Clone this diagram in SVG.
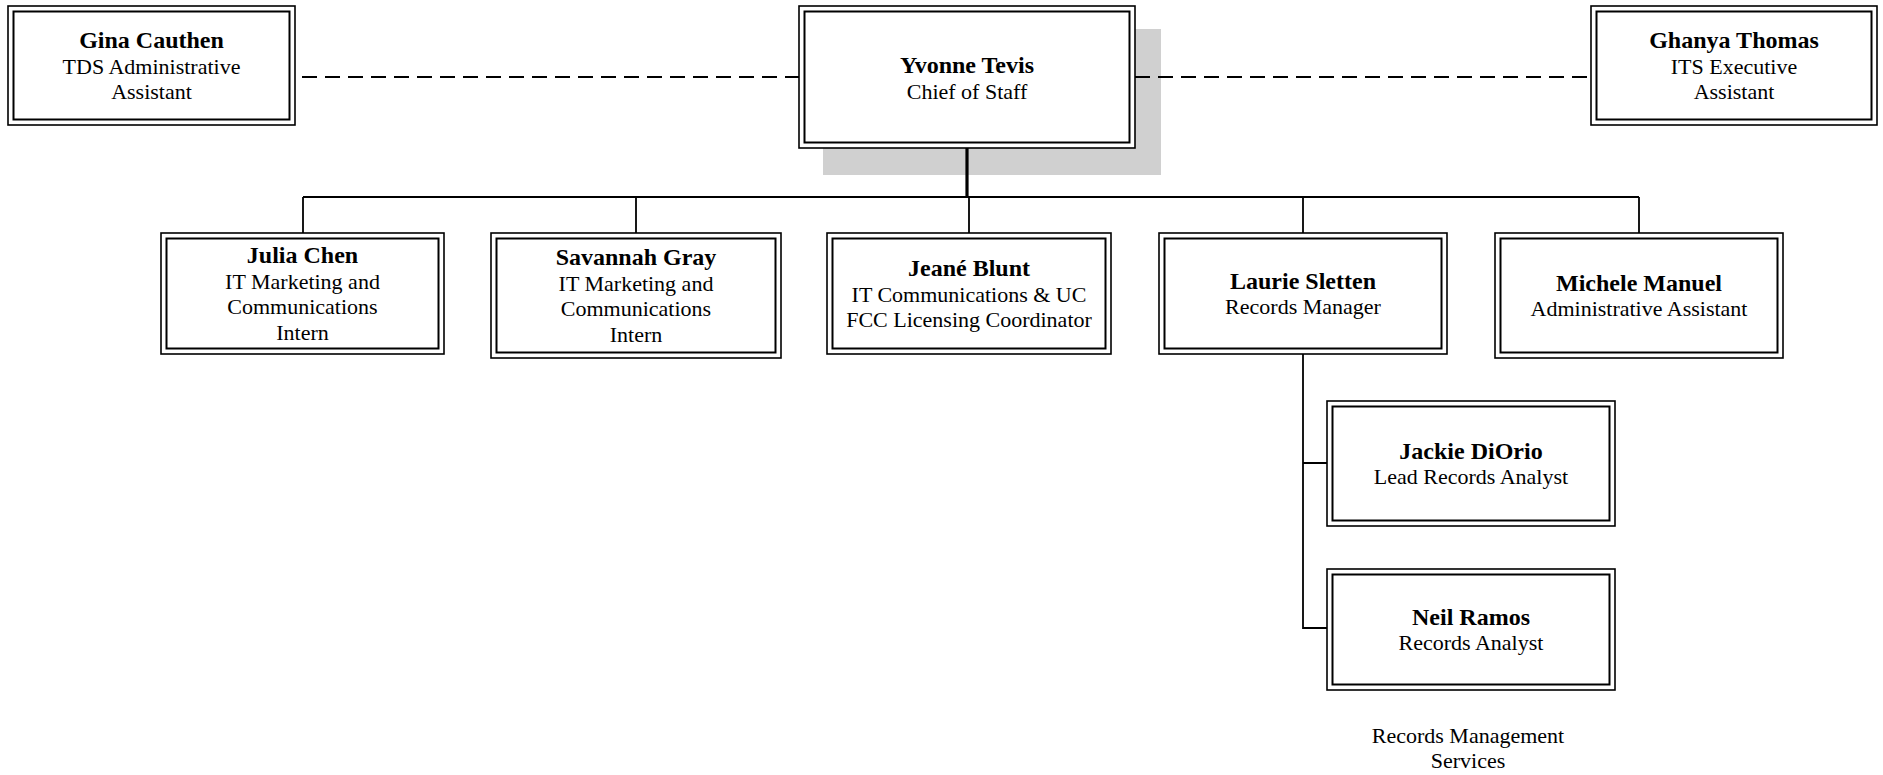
<svg xmlns="http://www.w3.org/2000/svg" width="1883" height="775" viewBox="0 0 1883 775">
<style>
.o{fill:#fff;stroke:#000;stroke-width:1.6}
.i{fill:none;stroke:#000;stroke-width:2}
.n{font-family:"Liberation Serif","Times New Roman",serif;font-weight:bold;font-size:24px;text-anchor:middle;fill:#000}
.t{font-family:"Liberation Serif","Times New Roman",serif;font-size:22px;text-anchor:middle;fill:#000}
.c{fill:none;stroke:#000;stroke-width:1.8}
.d{fill:none;stroke:#000;stroke-width:2;stroke-dasharray:15 8}
</style>
<rect width="1883" height="775" fill="#fff"/>
<g id="yvonne">
<rect x="823" y="29" width="338" height="146" fill="#d0d0d0"/>
<rect class="o" x="799" y="6" width="336" height="142"/>
<rect class="i" x="804.5" y="11.5" width="325" height="131"/>
<path d="M967 148V197" stroke="#000" stroke-width="3.2" fill="none"/>
<text class="n" x="967" y="73">Yvonne Tevis</text>
<text class="t" x="967" y="98.5">Chief of Staff</text>
</g>
<g id="connectors">
<path class="d" d="M302 77H799"/>
<path class="d" d="M1135 77H1591"/>
<path class="c" d="M303 197H1639M303 197V233M636 197V233M969 197V233M1303 197V233M1639 197V233"/>
<path class="c" d="M1303 354V628H1327M1303 463H1327"/>
</g>
<g id="gina">
<rect class="o" x="8" y="6" width="287" height="119"/>
<rect class="i" x="13.5" y="11.5" width="276" height="108"/>
<text class="n" x="151.5" y="47.8">Gina Cauthen</text>
<text class="t" x="151.5" y="73.5">TDS Administrative</text>
<text class="t" x="151.5" y="99.2">Assistant</text>
</g>
<g id="ghanya">
<rect class="o" x="1591" y="6" width="286" height="119"/>
<rect class="i" x="1596.5" y="11.5" width="275" height="108"/>
<text class="n" x="1734" y="47.8">Ghanya Thomas</text>
<text class="t" x="1734" y="73.5">ITS Executive</text>
<text class="t" x="1734" y="99.2">Assistant</text>
</g>
<g id="julia">
<rect class="o" x="161" y="233" width="283" height="121"/>
<rect class="i" x="166.5" y="238.5" width="272" height="110"/>
<text class="n" x="302.5" y="262.9">Julia Chen</text>
<text class="t" x="302.5" y="288.6">IT Marketing and</text>
<text class="t" x="302.5" y="314.4">Communications</text>
<text class="t" x="302.5" y="340.1">Intern</text>
</g>
<g id="savannah">
<rect class="o" x="491" y="233" width="290" height="125"/>
<rect class="i" x="496.5" y="238.5" width="279" height="114"/>
<text class="n" x="636" y="264.9">Savannah Gray</text>
<text class="t" x="636" y="290.6">IT Marketing and</text>
<text class="t" x="636" y="316.4">Communications</text>
<text class="t" x="636" y="342.1">Intern</text>
</g>
<g id="jeane">
<rect class="o" x="827" y="233" width="284" height="121"/>
<rect class="i" x="832.5" y="238.5" width="273" height="110"/>
<text class="n" x="969" y="275.8">Jeané Blunt</text>
<text class="t" x="969" y="301.5">IT Communications &amp; UC</text>
<text class="t" x="969" y="327.2">FCC Licensing Coordinator</text>
</g>
<g id="laurie">
<rect class="o" x="1159" y="233" width="288" height="121"/>
<rect class="i" x="1164.5" y="238.5" width="277" height="110"/>
<text class="n" x="1303" y="288.6">Laurie Sletten</text>
<text class="t" x="1303" y="314.4">Records Manager</text>
</g>
<g id="michele">
<rect class="o" x="1495" y="233" width="288" height="125"/>
<rect class="i" x="1500.5" y="238.5" width="277" height="114"/>
<text class="n" x="1639" y="290.6">Michele Manuel</text>
<text class="t" x="1639" y="316.4">Administrative Assistant</text>
</g>
<g id="jackie">
<rect class="o" x="1327" y="401" width="288" height="125"/>
<rect class="i" x="1332.5" y="406.5" width="277" height="114"/>
<text class="n" x="1471" y="458.6">Jackie DiOrio</text>
<text class="t" x="1471" y="484.4">Lead Records Analyst</text>
</g>
<g id="neil">
<rect class="o" x="1327" y="569" width="288" height="121"/>
<rect class="i" x="1332.5" y="574.5" width="277" height="110"/>
<text class="n" x="1471" y="624.6">Neil Ramos</text>
<text class="t" x="1471" y="650.4">Records Analyst</text>
</g>
<g id="label">
<text class="t" x="1468" y="743">Records Management</text>
<text class="t" x="1468" y="768">Services</text>
</g>
</svg>
